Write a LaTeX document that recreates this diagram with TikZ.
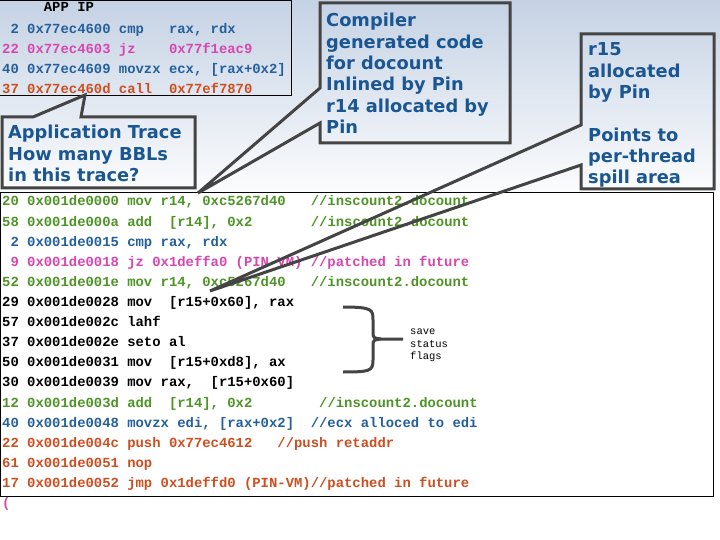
\documentclass[tikz,border=0pt]{standalone}
\usepackage{fontspec}
\setmainfont{DejaVu Sans}
\setmonofont{Liberation Mono}
\definecolor{bgtop}{RGB}{197,210,228}
\definecolor{cgreen}{RGB}{78,148,38}
\definecolor{cblue}{RGB}{36,96,156}
\definecolor{cpink}{RGB}{216,70,176}
\definecolor{cred}{RGB}{206,78,32}
\definecolor{noteblue}{RGB}{26,86,146}
\definecolor{edgegrey}{RGB}{68,68,68}
\tikzset{
  codeline/.style={anchor=base west,inner sep=0pt,font=\ttfamily\bfseries\fontsize{13.9}{16}\selectfont},
  note/.style={anchor=base west,inner sep=0pt,align=left,text=noteblue,font=\bfseries\fontsize{17.8}{21.3}\selectfont},
  callout/.style={draw=edgegrey,line width=3pt,line join=miter},
}
\begin{document}
\begin{tikzpicture}[x=1pt,y=-1pt]
    \useasboundingbox (0,0) rectangle (720,540);
    \shade[top color=bgtop,bottom color=white] (0,0) rectangle (720,205);
    % application code
    \draw[line width=1pt] (-2,1) rectangle (291,96);
    \node[codeline] (apphead) at (2,12) {~~~~~APP IP};
    \node[codeline,text=cblue] (a1) at (2,34) {~2 0x77ec4600 cmp~~~rax, rdx};
    \node[codeline,text=cpink] (a2) at (2,54) {22 0x77ec4603 jz~~~~0x77f1eac9};
    \node[codeline,text=cblue] (a3) at (2,74) {40 0x77ec4609 movzx ecx, [rax+0x2]};
    \node[codeline,text=cred] (a4) at (2,93.5) {37 0x77ec460d call~~0x77ef7870};
    % trace in the code cache
    \draw[fill=white,line width=1pt] (0,193) rectangle (713,496);
    \node[codeline,text=cgreen] (l1) at (2,206) {20 0x001de0000 mov r14, 0xc5267d40~~~//inscount2.docount};
    \node[codeline,text=cgreen] (l2) at (2,226.1) {58 0x001de000a add~~[r14], 0x2~~~~~~~//inscount2.docount};
    \node[codeline,text=cblue] (l3) at (2,246.2) {~2 0x001de0015 cmp rax, rdx};
    \node[codeline,text=cpink] (l4) at (2,266.3) {~9 0x001de0018 jz 0x1deffa0 (PIN-VM) //patched in future};
    \node[codeline,text=cgreen] (l5) at (2,286.4) {52 0x001de001e mov r14, 0xc5267d40~~~//inscount2.docount};
    \node[codeline] (l6) at (2,306.5) {29 0x001de0028 mov~~[r15+0x60], rax};
    \node[codeline] (l7) at (2,326.6) {57 0x001de002c lahf};
    \node[codeline] (l8) at (2,346.7) {37 0x001de002e seto al};
    \node[codeline] (l9) at (2,366.8) {50 0x001de0031 mov~~[r15+0xd8], ax};
    \node[codeline] (l10) at (2,386.9) {30 0x001de0039 mov rax,~~[r15+0x60]};
    \node[codeline,text=cgreen] (l11) at (2,407) {12 0x001de003d add~~[r14], 0x2~~~~~~~~//inscount2.docount};
    \node[codeline,text=cblue] (l12) at (2,427.1) {40 0x001de0048 movzx edi, [rax+0x2]~~//ecx alloced to edi};
    \node[codeline,text=cred] (l13) at (2,447.2) {22 0x001de004c push 0x77ec4612~~~//push retaddr};
    \node[codeline,text=cred] (l14) at (2,467.3) {61 0x001de0051 nop};
    \node[codeline,text=cred] (l15) at (2,487.4) {17 0x001de0052 jmp 0x1deffd0 (PIN-VM)//patched in future};
    \node[codeline,text=cpink] (paren) at (2,507) {(};
    % brace over the flag saving lines
    \draw[edgegrey,line width=3pt] (343,307) .. controls (373,307) and (373,310) .. (373,320) -- (373,331)
        .. controls (373,338) .. (381,339) -- (403,339);
    \draw[edgegrey,line width=3pt] (381,339) .. controls (373,340) .. (373,347) -- (373,360)
        .. controls (373,371) and (370,372) .. (343,372);
    \node[anchor=base west,inner sep=0pt,align=left,font=\ttfamily\fontsize{10.5}{12.5}\selectfont] (flags) at (410,359.5) {save\\status\\flags};
    % callouts (base anchor sits on the last line)
    \coordinate (apptip) at (85,95);
    \coordinate (cgtip) at (198,193);
    \coordinate (rtip) at (210,291);
    \draw[callout] (2,117) -- (33,117) -- (apptip) -- (81,117) -- (195,117) -- (195,188) -- (2,188) -- cycle;
    \node[note] (trace) at (8,181.6) {Application Trace\\How many BBLs\\in this trace?};
    \draw[callout] (320,3) -- (510,3) -- (510,143) -- (320,143) -- (320,123) -- (cgtip) -- (320,88) -- cycle;
    \node[note] (compiler) at (326,133.5) {Compiler\\generated code\\for docount\\Inlined by Pin\\r14 allocated by\\Pin};
    \draw[callout] (581,34) -- (714,34) -- (714,189) -- (581,189) -- (581,165) -- (rtip) -- (581,125) -- cycle;
    \node[note] (rfifteen) at (588,183.8) {r15\\allocated\\by Pin\\[21.3pt]Points to\\per-thread\\spill area};
\end{tikzpicture}
\end{document}
